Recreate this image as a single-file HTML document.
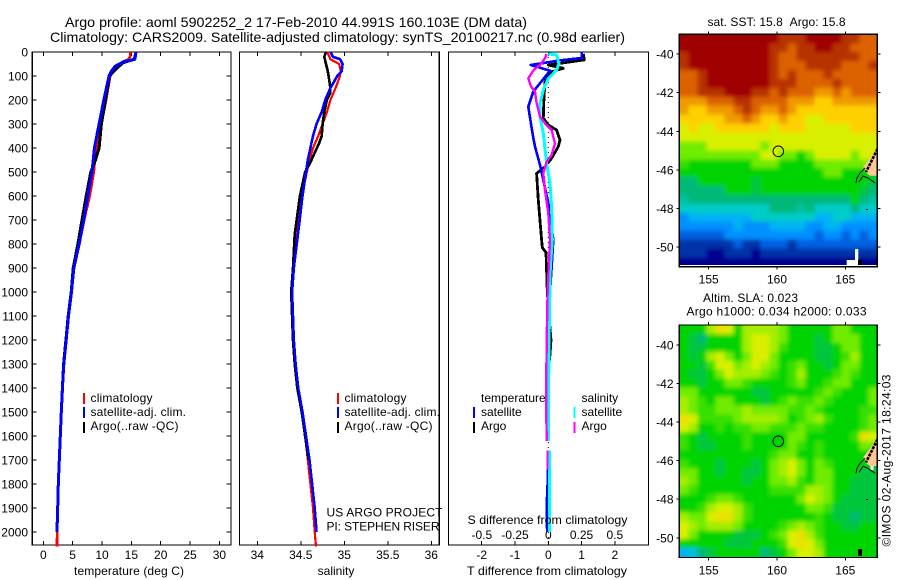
<!DOCTYPE html>
<html lang="en">
<head>
<meta charset="utf-8">
<title>Argo profile 5902252_2</title>
<style>
html,body{margin:0;padding:0;background:#fff;}
svg{display:block;}
text{font-family:"Liberation Sans",sans-serif;font-size:12px;fill:#000;}
.ttl{font-size:14px;}
</style>
</head>
<body>
<svg id="chart" xmlns="http://www.w3.org/2000/svg" width="900" height="580" viewBox="0 0 900 580">
<defs>
<clipPath id="clip-sst"><rect x="679.3" y="34.3" width="198" height="232.4"/></clipPath>
<clipPath id="clip-sla"><rect x="679.3" y="325" width="198" height="232.4"/></clipPath>
<filter id="soft" filterUnits="userSpaceOnUse" x="650" y="0" width="250" height="580"><feGaussianBlur stdDeviation="2"/></filter>
</defs>
<rect x="0" y="0" width="900" height="580" fill="#fff"/>
<text class="ttl" x="65" y="27" textLength="462" lengthAdjust="spacingAndGlyphs">Argo profile: aoml 5902252_2 17-Feb-2010 44.991S 160.103E (DM data)</text>
<text class="ttl" x="50" y="42" textLength="575" lengthAdjust="spacingAndGlyphs">Climatology: CARS2009. Satellite-adjusted climatology: synTS_20100217.nc (0.98d earlier)</text>

<g id="panels"></g>

<text x="74" y="575" textLength="110" lengthAdjust="spacing">temperature (deg C)</text>
<text x="336" y="575" text-anchor="middle">salinity</text>
<text x="467" y="575" textLength="160" lengthAdjust="spacingAndGlyphs">T difference from climatology</text>
<text x="467.5" y="524" textLength="160" lengthAdjust="spacingAndGlyphs">S difference from climatology</text>

<g>
<rect x="83" y="393" width="2" height="11" fill="#f00"/>
<rect x="83" y="407" width="2" height="11" fill="#00f"/>
<rect x="83" y="422" width="2" height="11" fill="#000"/>
<text x="90.5" y="402" textLength="62" lengthAdjust="spacing">climatology</text>
<text x="90.5" y="416" textLength="95.5" lengthAdjust="spacing">satellite-adj. clim.</text>
<text x="90.5" y="430" textLength="88" lengthAdjust="spacing">Argo(..raw -QC)</text>
</g>
<g>
<rect x="337" y="393" width="2" height="11" fill="#f00"/>
<rect x="337" y="407" width="2" height="11" fill="#00f"/>
<rect x="337" y="422" width="2" height="11" fill="#000"/>
<text x="344.5" y="402" textLength="62" lengthAdjust="spacing">climatology</text>
<text x="344.5" y="416" textLength="95.5" lengthAdjust="spacing">satellite-adj. clim.</text>
<text x="344.5" y="430" textLength="88" lengthAdjust="spacing">Argo(..raw -QC)</text>
<text x="326.5" y="516.5" textLength="116" lengthAdjust="spacing">US ARGO PROJECT</text>
<text x="326.5" y="530.5" textLength="113" lengthAdjust="spacing">PI: STEPHEN RISER</text>
</g>
<g>
<text x="481" y="402">temperature</text>
<text x="481" y="416">satellite</text>
<text x="481" y="430">Argo</text>
<text x="581.5" y="402">salinity</text>
<text x="581.5" y="416">satellite</text>
<text x="581.5" y="430">Argo</text>
<rect x="473" y="407" width="2" height="11" fill="#00f"/>
<rect x="473" y="422" width="2" height="11" fill="#000"/>
<rect x="573.5" y="407" width="2" height="11" fill="#0ff"/>
<rect x="573.5" y="422" width="2" height="11" fill="#f0f"/>
</g>

<text x="707.5" y="26" textLength="138" lengthAdjust="spacing">sat. SST: 15.8&#160;&#160;Argo: 15.8</text>
<text x="703" y="302" textLength="95" lengthAdjust="spacing">Altim. SLA: 0.023</text>
<text x="686.5" y="315.5" textLength="180" lengthAdjust="spacing">Argo h1000: 0.034 h2000: 0.033</text>

<g clip-path="url(#clip-sst)"><g id="map-sst" filter="url(#soft)"></g></g>
<g clip-path="url(#clip-sst)">
<rect x="679.3" y="265" width="198" height="2" fill="#fff"/>
<rect x="846.7" y="260" width="8.3" height="5" fill="#fff"/>
<rect x="855" y="249" width="3.3" height="16" fill="#fff"/>
<polygon points="877.5,148.3 870,158.3 863.3,166.7 866.7,173.3 870,175.7 877.5,175.7" fill="#ffc890"/>
<path d="M877.5 149L866 172" stroke="#000" stroke-width="2.6" stroke-dasharray="3 1" fill="none"/>
<path d="M856 183L857 178L860 173L865 168M859 182L863 176L868 178L875 183" stroke="#000" stroke-width="1" fill="none"/>
<rect x="858" y="260" width="4" height="5" fill="#000"/>
<rect x="866" y="209" width="2" height="1" fill="#000"/>
<circle cx="778.3" cy="151.3" r="5.3" fill="none" stroke="#000" stroke-width="1"/>
</g>

<g clip-path="url(#clip-sla)"><g id="map-sla" filter="url(#soft)"></g></g>
<g clip-path="url(#clip-sla)">
<polygon points="877.5,438.6 870,448.6 863.3,457 866.7,463.6 870,466 877.5,466" fill="#ffc890"/>
<rect x="870.5" y="466" width="3" height="4" fill="#fff"/>
<path d="M877.5 439.3L866 462.3" stroke="#000" stroke-width="2.6" stroke-dasharray="3 1" fill="none"/>
<path d="M856 473.3L857 468.3L860 463.3L865 458.3M859 472.3L863 466.3L868 468.3L875 473.3" stroke="#000" stroke-width="1" fill="none"/>
<rect x="858" y="549" width="4" height="7" fill="#000"/>
<rect x="866" y="499" width="2" height="1" fill="#000"/>
<circle cx="778.3" cy="441.3" r="5.3" fill="none" stroke="#000" stroke-width="1"/>
</g>
<g id="map-axes"></g>

<text transform="translate(890.5,546.5) rotate(-90)" textLength="172" lengthAdjust="spacing">©IMOS 02-Aug-2017 18:24:03</text>
</svg>

<script>
/* ---------- axis tick values ---------- */
var depthTicks = [0,100,200,300,400,500,600,700,800,900,1000,1100,1200,1300,1400,1500,1600,1700,1800,1900,2000];
var tempTicks = [0,5,10,15,20,25,30];
var salTicks = [34,34.5,35,35.5,36];
var tDiffTicks = [-2,-1,0,1,2];
var sDiffTicks = [-0.5,-0.25,0,0.25,0.5];
var lonTicks = [155,160,165];
var latTicks = [-40,-42,-44,-46,-48,-50];

/* ---------- temperature panel ---------- */
var tempClimDepth = [0,20,30,40,60,100,200,300,400,500,600,700,800,900,1000,1100,1200,1300,1400,1500,1600,1700,1800,1900,2000,2060];
var tempClim = [14.8,14.8,14.5,13.7,12.4,11.4,10.7,9.9,9.0,8.6,7.9,6.95,6.15,5.25,4.8,4.3,3.9,3.5,3.3,3.1,2.9,2.75,2.55,2.45,2.35,2.33];
var tempSatDepth = [0,30,40,60,80,100,200,300,400,500,600,700,800,900,1000,1100,1200,1300,1400,1500,1600,1700,1800,1900,2000];
var tempSat = [15.8,15.6,13.7,12.2,11.6,11.2,10.3,9.5,8.7,8.3,7.56,6.9,6.1,5.2,4.8,4.3,3.9,3.5,3.25,3.07,2.9,2.73,2.56,2.45,2.33];
var tempArgoDepth = [0,30,45,70,100,200,300,400,450,500,600,700,800,900,1000,1100,1200,1300,1400,1500,1600,1700,1800,1900,1980];
var tempArgo = [15.8,15.5,13.6,12.4,11.3,10.6,9.9,9.5,8.9,8.1,7.3,6.6,5.9,5.1,4.75,4.25,3.85,3.45,3.25,3.07,2.9,2.73,2.56,2.45,2.35];

/* ---------- salinity panel ---------- */
var salClimDepth = [0,20,30,50,80,100,150,200,250,300,350,400,450,500,600,720,900,1000,1200,1300,1400,1500,1600,1700,1800,1900,2000,2060];
var salClim = [34.80,34.83,34.84,34.94,34.96,34.95,34.90,34.84,34.80,34.75,34.70,34.64,34.60,34.57,34.51,34.47,34.42,34.40,34.42,34.44,34.47,34.51,34.55,34.58,34.61,34.64,34.66,34.675];
var salSatDepth = [0,20,30,50,80,100,150,200,250,300,350,400,450,500,600,720,900,1000,1200,1300,1400,1500,1600,1700,1800,1900,2000];
var salSat = [34.84,34.87,34.95,34.98,34.97,34.92,34.84,34.78,34.74,34.68,34.64,34.61,34.58,34.56,34.52,34.48,34.42,34.40,34.42,34.44,34.47,34.52,34.56,34.60,34.63,34.66,34.68];
var salArgoDepth = [0,20,50,80,100,150,170,200,250,300,350,380,420,460,500,600,760,900,1000,1200,1300,1400,1500,1600,1700];
var salArgo = [34.79,34.77,34.79,34.81,34.82,34.84,34.84,34.80,34.77,34.75,34.74,34.71,34.66,34.61,34.55,34.49,34.43,34.41,34.39,34.41,34.43,34.46,34.51,34.55,34.59];

/* ---------- difference panel ---------- */
var tDiffSatDepth = [0,25,35,54,78,165,228,300,358,394,471,533,630,728,783,900,1000,1200,1500,1620,1640,1660,1800,1900,1960,2000];
var tDiffSat = [1.0,1.0,0.35,-0.53,0.05,-0.45,-0.6,-0.52,-0.45,-0.4,-0.25,-0.15,0,0.1,0.15,0.1,0.05,0,0,0,null,0,-0.02,-0.05,-0.05,-0.03];
var tDiffArgoDepth = [8,33,54,68,82,124,186,276,304,325,367,394,443,478,506,617,783,815,835,1000,1150,1200,1260,1300,1500,1620,1640,1660,2000];
var tDiffArgo = [1.05,1.08,0,0.45,0.1,-0.1,-0.13,-0.15,0,0.25,0.35,0.3,0.1,-0.1,-0.35,-0.3,-0.2,-0.18,-0.07,-0.03,0.05,0.08,0.05,0.02,0,0,null,0,0];
var sDiffSatDepth = [8,12,47,75,110,158,214,269,339,464,547,644,783,900,1100,1400,1620,1640,1660,1900,2000];
var sDiffSat = [0,0.0625,0.08,0.0625,0,-0.0375,-0.0625,-0.0625,-0.0375,-0.0125,0.0125,0.025,0.03,0.015,0.008,0.002,0.002,null,0.01,0.01,0.01];
var sDiffArgoDepth = [8,26,54,75,110,144,165,214,269,297,325,381,429,457,506,575,672,783,1000,1200,1390,1500,1620,1640,1660,1740];
var sDiffArgo = [-0.013,-0.025,-0.0625,-0.11,-0.15,-0.13,-0.1,-0.0875,-0.0625,-0.025,0.025,0.05,0.025,-0.0125,-0.0375,-0.025,0,0.0125,-0.005,-0.012,-0.016,-0.015,-0.012,null,-0.006,-0.006];

/* ---------- SST map grid (colour-scale units, row = north to south) ---------- */
var sstRows = [
[14,14,14,14,14,14,14,14,14,14,14,13,13,13,14,14,14,14,13,13,12,12],
[14,14,14,14,14,14,14,14,14,14,13,13,12,13,13,14,14,13,13,12,12,12],
[13,14,14,14,14,14,14,14,14,14,13,12,12,13,13,13,13,13,13,13,12,12],
[13,14,14,14,14,14,14,14,14,14,13,12,12,12,13,13,13,13,12,12,12,13],
[12,12,13,14,14,14,14,14,14,14,13,12,13,12,12,12,13,12,12,12,12,12],
[12,12,13,14,14,14,14,14,14,14,13,13,13,12,12,12,12,13,12,12,12,12],
[12,12,13,13,13,14,14,14,13,13,12,13,12,12,12,11,11,12,11,12,12,12],
[11,11,11,12,12,12,13,13,12,12,12,12,11,11,11,10,10,11,11,11,11,11],
[11,10,10,11,11,11,12,13,12,11,11,12,11,10,10,10,10,10,10,10,10,10],
[10,10,10,10,10,11,11,12,11,10,10,11,10,10,9,9,10,10,10,10,10,10],
[9,10,9,9,10,10,10,10,10,10,9,10,10,10,9,9,9,9,9,10,10,10],
[9,9,9,9,9,9,9,9,9,9,9,9,9,9,9,9,9,9,9,9,9,9],
[8,8,8,9,9,9,9,9,9,8,9,9,9,9,9,9,9,9,9,9,9,9],
[8,8,8,8,8,8,8,8,8,9,9,8,8,7,8,9,9,9,9,8,9,9],
[7.5,7,7,7,7,7,7,7,8,8,8,7,7,7,7,8,8,8,8,8,8,8],
[7,7,7,7,7,7,7,7,7,7,7,7,7,7,7,7,8,8,7,7,7,7],
[6,6,7,7,7,7,7,7,6.5,7,7,7,7,7,7,7,7,7,7,7,7,6.5],
[6,6,6,6,6,7,7,7,6.5,7,7,7,7,7,7,7,7,7,7,7,6.5,6],
[5.5,6,6,6,6,6,6,6,6,6,6,6,6,6,6,6,6,6,6,7,6,5.5],
[5,5,5,5,5,5,5,5,5,5,6,6,6,5.5,6,5,5,5,5,6,5,5],
[3,4,4,4,4,4,4,4,5,5,5,5,5,5,5,4,4,5,5,4,4,4],
[3,3,3,3,3,3,4,3,3,3,4,4,4,4,3,3,4,4,3,3,3,3],
[2,2,2,2,2,3,3,3,3,3,3,3,3,3,3,2,3,3,2,3,2,3],
[1,1,1,1,1,1,2,1,1,2,2,2,1,2,2,2,2,2,2,2,2,2],
[1,1,1,0,0,1,1,1,0,1,1,1,1,1,1,1,1,1,1,1,1,1],
[0,0,0,0,0,0,0,0,0,0,0,0,0,0,0,0,0,0,0,0,0,0]
];

/* ---------- SLA map grid (colour-scale units, row = north to south) ---------- */
var slaRows = [
[7,7,7,8.5,9.5,9,7,8.5,8.5,8.5,8.5,8,7,7,7,7,7,8,8,7,7,7],
[7,6.5,6,7,7,7,7,8.5,9,9,8.5,8,7,7,7,6.5,7,8,8,8,7,7],
[7,6.5,6.5,7,7,7,7,8.5,9,9,8.5,7.5,7,7,7,6.5,6.5,7,8,8,7,7],
[7,6.5,7,8.5,9,8,7,8,9,9,8,7,7,7,7,6.5,6.5,7,7.5,8.5,7,7],
[7,7,6.5,7.5,9,9,8,8.5,9,8.5,8,7,7.5,8,7,7,6.5,7,8,8,7,7],
[7,6.5,6.5,7,8,9,8.5,8.5,8.5,8,7.5,7,7.5,8.5,7,7,7,7.5,8,7.5,7,7],
[7,7,6.5,7,7,8,8,7.5,7,7,7,7,7.5,8,7,7,7.5,8,8,7,7,7],
[8,8,7,7,7,7,7,7,6.5,6.5,7,7,7,7,7,7.5,8,7.5,7,7,7,8],
[8.5,8,7.5,7,8,8,7,7,7,6.5,7,7.5,8,7.5,7.5,8,7.5,7,7,7,7,8],
[8.5,8,7.5,7.5,8,8,8,8.5,8,8,8,8,7.5,7.5,8,7.5,7,7,7,7,7.5,7.5],
[9.5,9,7.5,7.5,7.5,7.5,8,8.5,8.5,8.5,8.5,8,7,7.5,8,8.5,7.5,7,7,7,7.5,8],
[9,8.5,7,7,7.5,7,7.5,7.5,8,8,7.5,7.5,7.5,8,7.5,7.5,7,7,7,7,7.5,8],
[7.5,7,6.5,7,7,7,7,7.5,7,7,7,7,8,8,7,7,7,7,7,7.5,9.5,9],
[7.5,7,6.5,6.5,7,7,7,7.5,7,7,7,7,8,7.5,7,7.5,7,7,7,7,8,8],
[7,7,7,7,7,7,7,7,7,7,7.5,8,8,7,7,7.5,7,7,7,7,7,7],
[7.5,7,7,7,6.5,7,7,7,6.5,7,8,8.5,9,8,7,8,7.5,7,7,7,7,7],
[8,8,7,7,6.5,7,7,6.5,6.5,7,8,8.5,9,8,7,8,8,7,7,7,6.5,6.5],
[8.5,8,7,7,7,7,7,6.5,7,7,8,8,8.5,7.5,7,8,8,7,7,6.5,6.5,6.5],
[8,7.5,7,7,7,7,7,7,7,7,7.5,7.5,7.5,7.5,8.5,8.5,8,7,7,6.5,6.5,6.5],
[7,7,7,7.5,8,8,7.5,7,7,7,7,7,7,8,9,8.5,8,7,6.5,6.5,6.5,6.5],
[7,7,7.5,8.5,9,9,8.5,7.5,7,7,7,7,7,7,8,8,7.5,6.5,6.5,6.5,6.5,6.5],
[8.5,8,8,9,9.5,9.5,8.5,7.5,7,7,7,7,7,7,7,7.5,7,6.5,6.5,6,6.5,6.5],
[9,8.5,8,8.5,8.5,8.5,8,7,7,7,7,7.5,8,8.5,8,7.5,7,7,6.5,6.5,7,7],
[9,8,7,7,7,7,6.5,6.5,6.5,7,7.5,8,9,9.5,8.5,7.5,7,7,7,7,7,7],
[7,7,7,7,7,6.5,6.5,6.5,7,7,7,7.5,9,9.5,9,8,7,7,7,7,7,7],
[4,4.5,6,6.5,7,7,7,7,7,6,6.5,7,8,9,9,8.5,7,7,7,7,7,7]
];

var NS = 'http://www.w3.org/2000/svg';
function mk(tag, attrs, parent, txt) {
  var n = document.createElementNS(NS, tag);
  for (var k in attrs) { n.setAttribute(k, attrs[k]); }
  if (txt !== undefined) { n.textContent = txt; }
  parent.appendChild(n);
  return n;
}

/* axis functions */
var PTOP = 52, PBOT = 545;
function yDepth(d) { return 52 + 0.24 * d; }
function xTemp(t) { return 43.3 + 5.87 * t; }
function xSal(s) { return 257.3 + 87 * (s - 34); }
function xTD(t) { return 548.3 + 33.3 * t; }
function xSD(s) { return 548.3 + 133 * s; }

var panels = document.getElementById('panels');

function frame(name, left, right) {
  var r = mk('rect', {x: left, y: PTOP, width: right - left, height: PBOT - PTOP, fill: 'none', stroke: '#000', 'stroke-width': 1.2, 'shape-rendering': 'crispEdges'}, panels);
  
  
}
function xTicks(name, ticks, fx, labelY) {
  ticks.forEach(function (v) {
    var x = fx(v);
    var t1 = mk('line', {x1: x, x2: x, y1: PTOP, y2: PTOP + 4, stroke: '#000', 'shape-rendering': 'crispEdges'}, panels);
    
    
    var t2 = mk('line', {x1: x, x2: x, y1: PBOT - 4, y2: PBOT, stroke: '#000', 'shape-rendering': 'crispEdges'}, panels);
    
    
    var lb = mk('text', {x: x, y: labelY, 'text-anchor': 'middle'}, panels, String(v));
    
    
  });
}
function drawSeries(name, depths, vals, fx, color, width) {
  var d = '', pen = false;
  for (var i = 0; i < vals.length; i++) {
    if (vals[i] === null) { pen = false; continue; }
    d += (pen ? 'L' : 'M') + fx(vals[i]).toFixed(1) + ' ' + yDepth(depths[i]).toFixed(1);
    pen = true;
  }
  var p = mk('path', {d: d, fill: 'none', stroke: color, 'stroke-width': width, 'stroke-linejoin': 'round', 'shape-rendering': 'crispEdges'}, panels);
  
  
}

/* frames */
frame('temperature-panel-frame', 32.3, 231);
frame('salinity-panel-frame', 239.5, 439.3);
frame('difference-panel-frame', 448.5, 648.5);

/* depth ticks */
depthTicks.forEach(function (d) {
  var y = yDepth(d);
  var a = mk('line', {x1: 32.3, x2: 36.5, y1: y, y2: y, stroke: '#000', 'shape-rendering': 'crispEdges'}, panels);
  
  
  var b = mk('line', {x1: 226.5, x2: 231, y1: y, y2: y, stroke: '#000', 'shape-rendering': 'crispEdges'}, panels);
  
  
  var l = mk('text', {x: 28, y: y + 4.5, 'text-anchor': 'end'}, panels, String(d));
  
  
});

xTicks('temperature', tempTicks, xTemp, 559);
xTicks('salinity', salTicks, xSal, 559);
xTicks('t-difference', tDiffTicks, xTD, 559);

sDiffTicks.forEach(function (v) {
  var l = mk('text', {x: xSD(v), y: 539, 'text-anchor': 'middle'}, panels, String(v));
  
  
});

/* zero reference line */
var zero = mk('line', {x1: xTD(0), x2: xTD(0), y1: yDepth(0), y2: yDepth(2060), stroke: '#000', 'stroke-width': 1, 'stroke-dasharray': '1 4'}, panels);



/* series */
drawSeries('temperature-climatology-line', tempClimDepth, tempClim, xTemp, '#f00', 2.6);
drawSeries('temperature-argo-line', tempArgoDepth, tempArgo, xTemp, '#000', 3);
drawSeries('temperature-satellite-line', tempSatDepth, tempSat, xTemp, '#00f', 3);
drawSeries('salinity-climatology-line', salClimDepth, salClim, xSal, '#f00', 2.2);
drawSeries('salinity-argo-line', salArgoDepth, salArgo, xSal, '#000', 2.6);
drawSeries('salinity-satellite-line', salSatDepth, salSat, xSal, '#00f', 2.6);
drawSeries('t-difference-argo-line', tDiffArgoDepth, tDiffArgo, xTD, '#000', 2.8);
drawSeries('t-difference-satellite-line', tDiffSatDepth, tDiffSat, xTD, '#00f', 2.6);
drawSeries('s-difference-satellite-line', sDiffSatDepth, sDiffSat, xSD, '#0ff', 3);
drawSeries('s-difference-argo-line', sDiffArgoDepth, sDiffArgo, xSD, '#f0f', 2.4);

/* ---------- maps ---------- */
var palette = ['#000090','#0030a8','#0060e0','#0090ff','#00b4f4','#00ccc8','#00b878','#00d400','#70ec00','#d8f000','#ffd000','#f09a00','#dc6200','#b83000','#a00000'];
function rgb(h) { return [parseInt(h.substr(1,2),16), parseInt(h.substr(3,2),16), parseInt(h.substr(5,2),16)]; }
function colour(v) {
  var i = Math.max(0, Math.min(palette.length - 1.001, v));
  var f = Math.floor(i), t = i - f;
  var a = rgb(palette[f]), b = rgb(palette[f + 1]);
  return 'rgb(' + Math.round(a[0]+(b[0]-a[0])*t) + ',' + Math.round(a[1]+(b[1]-a[1])*t) + ',' + Math.round(a[2]+(b[2]-a[2])*t) + ')';
}
var LON0 = 152.86, LON1 = 167.35, LAT0 = -38.98, LAT1 = -51.0;
function mapX(lon) { return 708.7 + (lon - 155) * 13.66; }
function mapY(lat, top) { return top + 19.75 + (-40 - lat) * 19.3; }

function drawMap(id, rows, top, cellName) {
  var g = document.getElementById(id);
  var nr = rows.length, nc = rows[0].length;
  var dLon = (LON1 - LON0) / nc, dLat = (LAT0 - LAT1) / nr;
  var bleed = 8;
  for (var r = 0; r < nr; r++) {
    for (var c = 0; c < rows[r].length; c++) {
      var x0 = mapX(LON0 + c * dLon), x1 = mapX(LON0 + (c + 1) * dLon);
      var y0 = mapY(LAT0 - r * dLat, top), y1 = mapY(LAT0 - (r + 1) * dLat, top);
      if (c === 0) { x0 -= bleed; }
      if (c === nc - 1) { x1 += bleed; }
      if (r === 0) { y0 -= bleed; }
      if (r === nr - 1) { y1 += bleed; }
      var cell = mk('rect', {x: x0.toFixed(1), y: y0.toFixed(1), width: (x1 - x0 + 0.6).toFixed(1), height: (y1 - y0 + 0.6).toFixed(1), fill: colour(rows[r][c]), 'shape-rendering': 'crispEdges'}, g);
      
      
    }
  }
}
drawMap('map-sst', sstRows, 34.3, 'sst-cell');
drawMap('map-sla', slaRows, 325, 'sla-cell');

var axesG = document.getElementById('map-axes');
function mapAxes(prefix, top) {
  var h = 232.4, left = 679.3, right = 877.3;
  var fr = mk('rect', {x: left, y: top, width: right - left, height: h, fill: 'none', stroke: '#000', 'stroke-width': 1.2, 'shape-rendering': 'crispEdges'}, axesG);
  
  
  lonTicks.forEach(function (lon) {
    var x = mapX(lon);
    var a = mk('line', {x1: x, x2: x, y1: top - 3, y2: top, stroke: '#000', 'shape-rendering': 'crispEdges'}, axesG);
    
    
    var b = mk('line', {x1: x, x2: x, y1: top + h, y2: top + h + 3, stroke: '#000', 'shape-rendering': 'crispEdges'}, axesG);
    
    
    var l = mk('text', {x: x, y: top + h + 17, 'text-anchor': 'middle'}, axesG, String(lon));
    
    
  });
  latTicks.forEach(function (lat) {
    var y = mapY(lat, top);
    var a = mk('line', {x1: left - 3, x2: left, y1: y, y2: y, stroke: '#000', 'shape-rendering': 'crispEdges'}, axesG);
    
    
    var b = mk('line', {x1: right, x2: right + 3, y1: y, y2: y, stroke: '#000', 'shape-rendering': 'crispEdges'}, axesG);
    
    
    var l = mk('text', {x: 673.5, y: y + 4.5, 'text-anchor': 'end'}, axesG, String(lat));
    
    
  });
}
mapAxes('sst', 34.3);
mapAxes('sla', 325);
</script>
</body>
</html>
